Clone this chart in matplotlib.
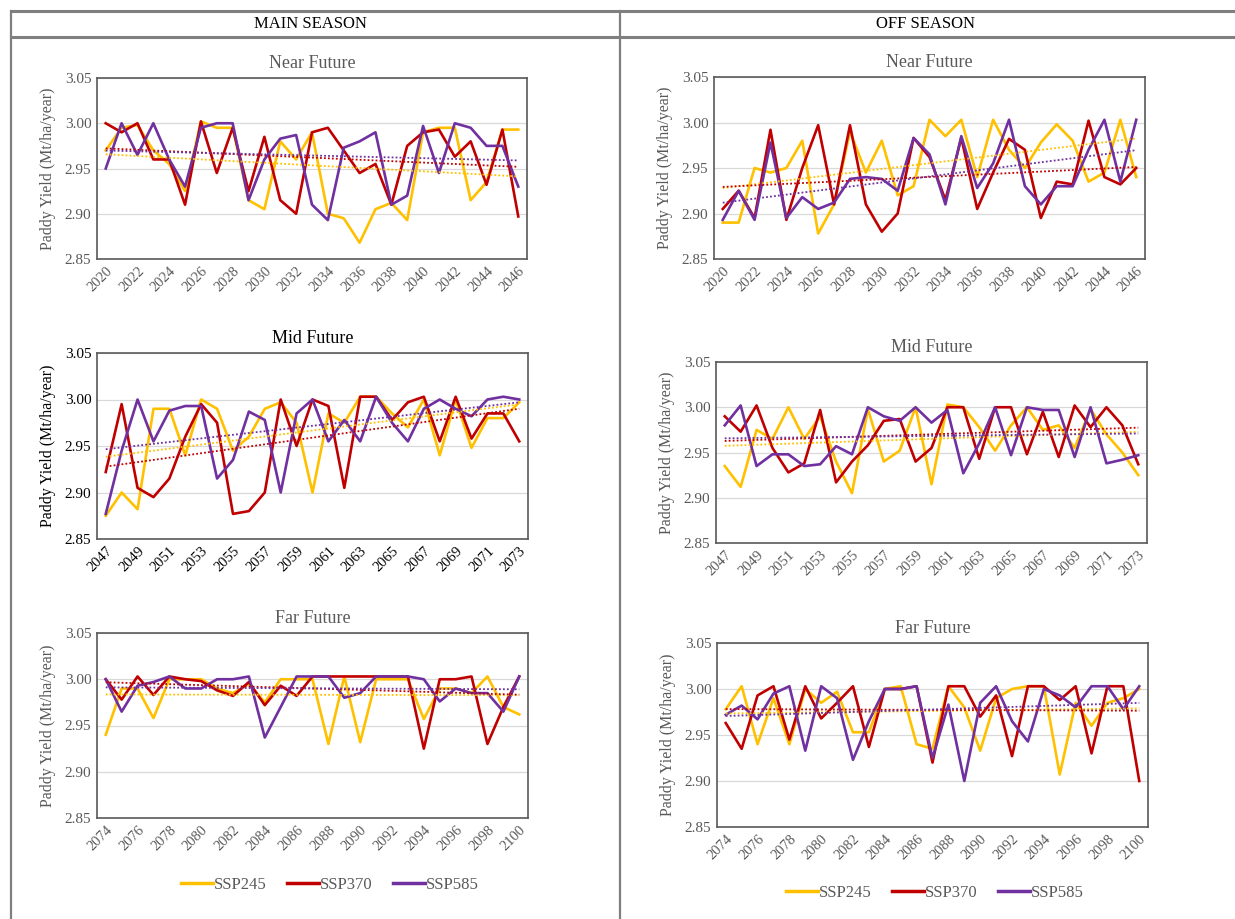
import matplotlib.pyplot as plt
import numpy as np

plt.rcParams['font.family'] = ['Liberation Serif', 'DejaVu Serif']

# years for each period
near_years = list(range(2020, 2047))
mid_years = list(range(2047, 2074))
far_years = list(range(2074, 2101))

# MAIN SEASON
main_near_245 = [2.970, 2.995, 2.998, 2.970, 2.955, 2.925, 3.002, 2.995, 2.995, 2.915, 2.905, 2.980, 2.960,
                 2.990, 2.900, 2.895, 2.868, 2.905, 2.912, 2.893, 2.990, 2.995, 2.995, 2.915, 2.935, 2.993, 2.993]
main_near_370 = [3.000, 2.990, 3.000, 2.960, 2.960, 2.910, 3.002, 2.945, 2.995, 2.925, 2.985, 2.915, 2.900,
                 2.990, 2.995, 2.970, 2.945, 2.955, 2.910, 2.975, 2.990, 2.993, 2.963, 2.980, 2.932, 2.993, 2.897]
main_near_585 = [2.950, 3.000, 2.965, 3.000, 2.960, 2.930, 2.995, 3.000, 3.000, 2.915, 2.960, 2.983, 2.987,
                 2.910, 2.893, 2.973, 2.980, 2.990, 2.910, 2.920, 2.997, 2.945, 3.000, 2.995, 2.975, 2.975, 2.930]

main_mid_245 = [2.875, 2.900, 2.882, 2.990, 2.990, 2.940, 3.000, 2.990, 2.945, 2.960, 2.990, 2.997, 2.975,
                2.900, 2.985, 2.975, 3.003, 3.003, 2.985, 2.970, 3.000, 2.940, 3.000, 2.948, 2.980, 2.980, 2.997]
main_mid_370 = [2.922, 2.995, 2.905, 2.895, 2.915, 2.960, 2.995, 2.975, 2.877, 2.880, 2.900, 3.000, 2.950,
                3.000, 2.993, 2.905, 3.003, 3.003, 2.978, 2.997, 3.003, 2.955, 3.003, 2.958, 2.985, 2.985, 2.955]
main_mid_585 = [2.877, 2.945, 3.000, 2.955, 2.988, 2.993, 2.993, 2.915, 2.935, 2.987, 2.978, 2.900, 2.985,
                3.000, 2.955, 2.978, 2.955, 3.003, 2.975, 2.955, 2.990, 3.000, 2.990, 2.982, 3.000, 3.003, 3.000]

main_far_245 = [2.940, 2.990, 2.990, 2.958, 3.000, 3.000, 3.000, 2.990, 2.985, 2.995, 2.975, 3.000, 3.000,
                3.000, 2.930, 3.003, 2.932, 3.000, 3.000, 3.000, 2.957, 2.990, 2.990, 2.985, 3.003, 2.970, 2.962]
main_far_370 = [3.000, 2.978, 3.003, 2.983, 3.003, 3.000, 2.998, 2.988, 2.982, 2.997, 2.972, 2.993, 2.982,
                3.003, 3.003, 3.003, 3.003, 3.003, 3.003, 3.003, 2.925, 3.000, 3.000, 3.003, 2.930, 2.970, 3.003]
main_far_585 = [3.000, 2.965, 2.993, 2.997, 3.003, 2.990, 2.990, 3.000, 3.000, 3.003, 2.937, 2.970, 3.003,
                3.003, 3.003, 2.980, 2.985, 3.003, 3.003, 3.003, 3.000, 2.976, 2.990, 2.985, 2.985, 2.965, 3.003]

# OFF SEASON
off_near_245 = [2.890, 2.890, 2.950, 2.945, 2.950, 2.980, 2.878, 2.910, 2.990, 2.945, 2.980, 2.920, 2.930,
                3.003, 2.985, 3.003, 2.940, 3.003, 2.970, 2.950, 2.978, 2.998, 2.980, 2.935, 2.945, 3.003, 2.940]
off_near_370 = [2.905, 2.925, 2.895, 2.992, 2.893, 2.950, 2.997, 2.910, 2.997, 2.910, 2.880, 2.900, 2.983,
                2.962, 2.915, 2.983, 2.905, 2.945, 2.982, 2.970, 2.895, 2.935, 2.932, 3.002, 2.940, 2.932, 2.950]
off_near_585 = [2.893, 2.925, 2.893, 2.978, 2.895, 2.918, 2.905, 2.912, 2.938, 2.940, 2.938, 2.925, 2.983,
                2.965, 2.910, 2.985, 2.928, 2.955, 3.003, 2.930, 2.910, 2.930, 2.930, 2.970, 3.003, 2.935, 3.003]

off_mid_245 = [2.935, 2.912, 2.975, 2.965, 3.000, 2.965, 2.990, 2.940, 2.905, 2.998, 2.940, 2.952, 3.000,
               2.915, 3.003, 3.000, 2.978, 2.952, 2.980, 3.000, 2.975, 2.980, 2.955, 2.998, 2.970, 2.950, 2.925]
off_mid_370 = [2.990, 2.973, 3.002, 2.955, 2.928, 2.938, 2.997, 2.917, 2.940, 2.958, 2.985, 2.987, 2.940,
               2.955, 3.000, 3.000, 2.943, 3.000, 3.000, 2.948, 2.995, 2.945, 3.002, 2.978, 3.000, 2.980, 2.937]
off_mid_585 = [2.980, 3.002, 2.935, 2.948, 2.948, 2.935, 2.937, 2.957, 2.948, 3.000, 2.990, 2.985, 3.000,
               2.983, 2.997, 2.927, 2.960, 3.000, 2.947, 3.000, 2.997, 2.997, 2.945, 3.000, 2.938, 2.942, 2.947]

off_far_245 = [2.978, 3.003, 2.940, 2.990, 2.940, 3.000, 2.985, 2.997, 2.953, 2.953, 3.000, 3.003, 2.940,
               2.935, 3.003, 2.980, 2.933, 2.990, 3.000, 3.003, 3.003, 2.907, 2.985, 2.960, 2.985, 2.990, 3.000]
off_far_370 = [2.963, 2.935, 2.993, 3.003, 2.945, 3.003, 2.968, 2.985, 3.003, 2.937, 3.000, 3.000, 3.003,
               2.920, 3.003, 3.003, 2.970, 2.993, 2.927, 3.003, 3.003, 2.988, 3.003, 2.930, 3.003, 3.003, 2.900]
off_far_585 = [2.972, 2.982, 2.967, 2.995, 3.003, 2.933, 3.003, 2.990, 2.923, 2.965, 3.000, 3.000, 3.003,
               2.925, 2.983, 2.900, 2.985, 3.003, 2.965, 2.943, 3.000, 2.993, 2.980, 3.003, 3.003, 2.978, 3.003]

scenarios = ['SSP245', 'SSP370', 'SSP585']
colores = ['#FFC000', '#C00000', '#7030A0']
gris = '#595959'

W, H = 1235, 919
fig = plt.figure(figsize=(W / 100, H / 100), dpi=100)

# paneles: (x0, y0, x1, y1) en pixeles, titulo, años, series
paneles = [
    ((97, 78, 527, 259), 'Near Future', near_years, [main_near_245, main_near_370, main_near_585]),
    ((97, 353, 528, 539), 'Mid Future', mid_years, [main_mid_245, main_mid_370, main_mid_585]),
    ((97, 633, 528, 818), 'Far Future', far_years, [main_far_245, main_far_370, main_far_585]),
    ((714, 77, 1145, 259), 'Near Future', near_years, [off_near_245, off_near_370, off_near_585]),
    ((716, 362, 1147, 543), 'Mid Future', mid_years, [off_mid_245, off_mid_370, off_mid_585]),
    ((717, 643, 1148, 827), 'Far Future', far_years, [off_far_245, off_far_370, off_far_585]),
]

for k, (caja, titulo, anios, series) in enumerate(paneles):
    x0, y0, x1, y1 = caja
    ax = fig.add_axes([x0 / W, 1 - y1 / H, (x1 - x0) / W, (y1 - y0) / H])
    idx = np.arange(len(anios))
    # el panel Mid Future de main season tiene texto mas oscuro
    tc = 'black' if k == 1 else gris
    for vals, c in zip(series, colores):
        ax.plot(idx, vals, color=c, lw=1.9, zorder=3)
    for vals, c in zip(series, colores):
        m, b = np.polyfit(idx, vals, 1)
        ax.plot(idx, m * idx + b, color=c, lw=1.3, ls=(0, (1, 1.2)), zorder=4)
    ax.set_xlim(-0.55, len(anios) - 0.45)
    ax.set_ylim(2.85, 3.05)
    ax.set_yticks([2.85, 2.90, 2.95, 3.00, 3.05])
    ax.set_yticklabels([f'{v:.2f}' for v in [2.85, 2.90, 2.95, 3.00, 3.05]], color=tc, fontsize=11)
    ax.set_xticks(idx[::2])
    ax.set_xticklabels([str(a) for a in anios[::2]], rotation=45, ha='right',
                       rotation_mode='anchor', color=tc, fontsize=10.5)
    ax.tick_params(length=0, pad=4)
    ax.grid(axis='y', color='#D9D9D9', lw=0.9, zorder=0)
    for s in ax.spines.values():
        s.set_color('#595959')
        s.set_linewidth(1.2)
    ax.set_title(titulo, color=tc, fontsize=13, pad=7)
    ax.set_ylabel('Paddy Yield (Mt/ha/year)', color=tc, fontsize=11.5, labelpad=6)

# leyendas al pie de cada columna
from matplotlib.lines import Line2D
handles = [Line2D([], [], color=c, lw=2.5) for c in colores]
for cx, cy in [(330, 885), (935, 893)]:
    leg = fig.legend(handles, scenarios, loc='center', bbox_to_anchor=(cx / W, 1 - cy / H),
                     ncol=3, frameon=False, fontsize=12, handlelength=1.9, handletextpad=0.1,
                     columnspacing=1.2)
    for t in leg.get_texts():
        t.set_color(gris)

# marco tipo tabla
def linea(xs, ys, lw=1.6):
    fig.add_artist(Line2D([x / W for x in xs], [1 - y / H for y in ys], color='#7F7F7F', lw=lw))

linea([11, 1235], [11, 11], 2.2)
linea([11, 1235], [37, 37], 2.2)
linea([11, 11], [11, 919])
linea([620, 620], [11, 919])

fig.text(310 / W, 1 - 24 / H, 'MAIN SEASON', ha='center', va='center', fontsize=12, color='black')
fig.text(925 / W, 1 - 24 / H, 'OFF SEASON', ha='center', va='center', fontsize=12, color='black')

fig.savefig('out.png', dpi=100, facecolor='white')
